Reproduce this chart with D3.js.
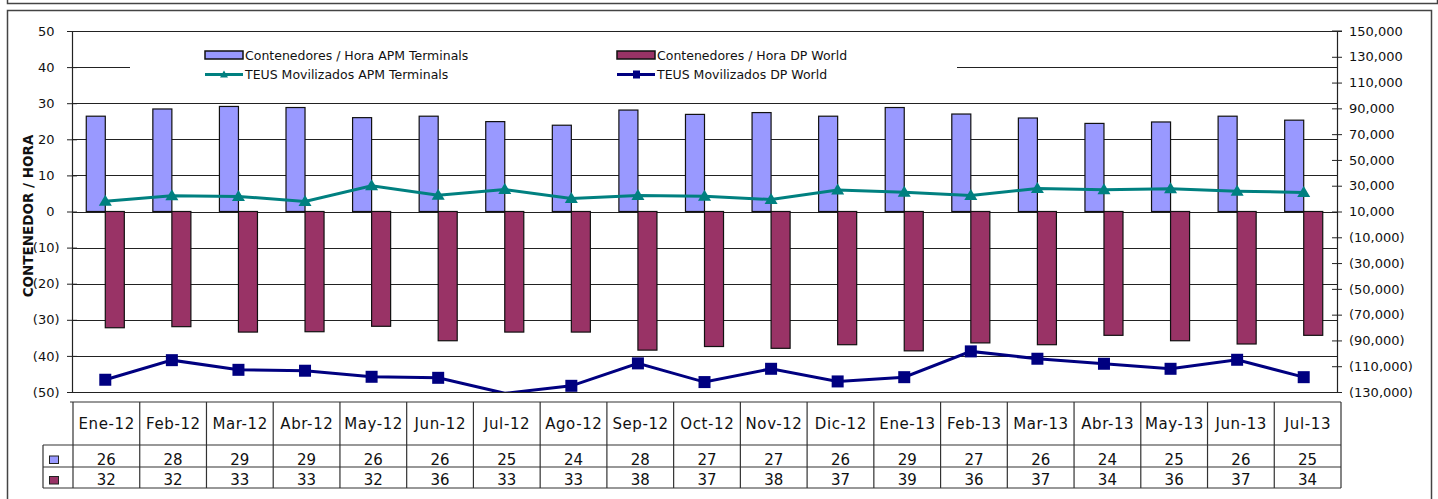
<!DOCTYPE html>
<html>
<head>
<meta charset="utf-8">
<script src="https://cdn.jsdelivr.net/npm/d3@7"></script>
<style>
  html, body { margin: 0; padding: 0; background: #fff; }
  svg { display: block; font-family: "DejaVu Sans", Verdana, sans-serif; }
</style>
</head>
<body>
<script>
// ---------- DATA ----------
const months = ["Ene-12","Feb-12","Mar-12","Abr-12","May-12","Jun-12","Jul-12","Ago-12","Sep-12","Oct-12",
                "Nov-12","Dic-12","Ene-13","Feb-13","Mar-13","Abr-13","May-13","Jun-13","Jul-13"];
// Contenedores / Hora (bars, left axis)
const apmRate = [26.4,28.4,29.1,28.8,26.0,26.4,24.9,23.9,28.1,26.9,27.4,26.4,28.8,27.0,25.9,24.4,24.8,26.4,25.3];
const dpRate  = [32.2,31.9,33.4,33.3,31.8,35.8,33.4,33.4,38.4,37.4,37.9,36.9,38.6,36.4,36.9,34.3,35.8,36.7,34.3];
// TEUS movilizados (lines, right axis; DP World drawn as negative)
const apmTeus = [18000,22200,21700,17800,29900,22700,27100,20100,22400,21800,19300,26600,25000,22400,27900,26800,27600,25800,24800];
const dpTeus  = [-120500,-105300,-112800,-113500,-118200,-119000,-131000,-125200,-107800,-122300,
                 -112000,-121800,-118500,-98500,-104200,-108100,-112000,-105000,-118500];
const leftTicks  = [-50,-40,-30,-20,-10,0,10,20,30,40,50];
const rightTicks = [-130000,-110000,-90000,-70000,-50000,-30000,-10000,10000,30000,50000,70000,90000,110000,130000,150000];
const seriesNames = ["Contenedores / Hora APM Terminals","Contenedores / Hora DP World",
                     "TEUS Movilizados APM Terminals","TEUS Movilizados DP World"];
const yTitle = "CONTENEDOR / HORA";

// ---------- STYLE ----------
const C_APM = "#9999FF", C_DP = "#993366", C_APM_L = "#008080", C_DP_L = "#000080";
const W = 1438, H = 499;
const PL = 72, PR = 1337, PT = 31, PB = 392;

const svg = d3.select("body").append("svg").attr("width", W).attr("height", H);

// frames
svg.append("rect").attr("x", 7.5).attr("y", -6).attr("width", 1430).attr("height", 9.5)
  .attr("fill", "none").attr("stroke", "#444").attr("stroke-width", 1.5);
svg.append("rect").attr("x", 7.5).attr("y", 10.5).attr("width", 1424).attr("height", 500)
  .attr("fill", "none").attr("stroke", "#444").attr("stroke-width", 1.5);

// scales
const x = d3.scaleBand().domain(months).range([PL, PR]).paddingInner(0).paddingOuter(0);
const yL = d3.scaleLinear().domain([-50, 50]).range([PB, PT]);
const yR = d3.scaleLinear().domain([-130000, 150000]).range([PB, PT]);
const bw = x.bandwidth() / 3.5;
const cx = m => x(m) + x.bandwidth() / 2;

// gridlines
svg.append("g").selectAll("line").data(leftTicks).join("line")
  .attr("x1", PL).attr("x2", PR)
  .attr("y1", d => Math.round(yL(d)) + 0.5).attr("y2", d => Math.round(yL(d)) + 0.5)
  .attr("stroke", "#222").attr("stroke-width", 1);

// legend background (hides gridline)
svg.append("rect").attr("x", 130).attr("y", 40).attr("width", 827).attr("height", 52).attr("fill", "#fff");

// bars
const bars = svg.append("g");
bars.selectAll("rect.apm").data(months).join("rect").attr("class", "apm")
  .attr("x", d => cx(d) - bw).attr("width", bw)
  .attr("y", (d, i) => yL(apmRate[i])).attr("height", (d, i) => yL(0) - yL(apmRate[i]))
  .attr("fill", C_APM).attr("stroke", "#111").attr("stroke-width", 1.2);
bars.selectAll("rect.dp").data(months).join("rect").attr("class", "dp")
  .attr("x", d => cx(d)).attr("width", bw)
  .attr("y", yL(0)).attr("height", (d, i) => yL(-dpRate[i]) - yL(0))
  .attr("fill", C_DP).attr("stroke", "#111").attr("stroke-width", 1.2);

// clip for lines
svg.append("clipPath").attr("id", "plotclip").append("rect")
  .attr("x", PL).attr("y", PT).attr("width", PR - PL).attr("height", PB - PT);

const lineGen = d3.line().x(d => cx(d.m)).y(d => yR(d.v));
const apmPts = months.map((m, i) => ({ m, v: apmTeus[i] }));
const dpPts = months.map((m, i) => ({ m, v: dpTeus[i] }));
const inDom = d => d.v >= -130000 && d.v <= 150000;

const lines = svg.append("g").attr("clip-path", "url(#plotclip)");
lines.append("path").datum(apmPts).attr("d", lineGen).attr("fill", "none")
  .attr("stroke", C_APM_L).attr("stroke-width", 3);
lines.append("path").datum(dpPts).attr("d", lineGen).attr("fill", "none")
  .attr("stroke", C_DP_L).attr("stroke-width", 3);

const tri = (w, h) => `M0,${-h/2}L${w/2},${h/2}L${-w/2},${h/2}Z`;
svg.append("g").selectAll("path").data(apmPts.filter(inDom)).join("path")
  .attr("transform", d => `translate(${cx(d.m)},${yR(d.v) - 1})`)
  .attr("d", tri(13, 11)).attr("fill", C_APM_L);
svg.append("g").selectAll("rect").data(dpPts.filter(inDom)).join("rect")
  .attr("x", d => cx(d.m) - 6).attr("y", d => yR(d.v) - 6).attr("width", 12).attr("height", 12)
  .attr("fill", C_DP_L);

// left axis
const fmtL = d => d < 0 ? `(${-d})` : `${d}`;
const axL = svg.append("g").attr("transform", `translate(${PL},0)`)
  .call(d3.axisLeft(yL).tickValues(leftTicks).tickFormat(fmtL).tickSize(5).tickSizeOuter(0));
axL.select(".domain").attr("stroke", "#222").attr("stroke-width", 1.2);
axL.selectAll(".tick line").attr("x1", 5).attr("x2", -5).attr("stroke", "#222");
axL.selectAll(".tick text").attr("x", d => d < 0 ? -12.5 : -17.4)
  .attr("font-size", 13).attr("font-family", "DejaVu Sans").attr("fill", "#111");

// right axis
const fmtR = d => d < 0 ? `(${d3.format(",")(-d)})` : d3.format(",")(d);
const axR = svg.append("g").attr("transform", `translate(${PR},0)`)
  .call(d3.axisRight(yR).tickValues(rightTicks).tickFormat(fmtR).tickSize(5).tickSizeOuter(0));
axR.select(".domain").attr("stroke", "#222").attr("stroke-width", 1.2);
axR.selectAll(".tick line").attr("x1", -5).attr("x2", 5).attr("stroke", "#222");
axR.selectAll(".tick text").attr("x", 12)
  .attr("font-size", 13).attr("font-family", "DejaVu Sans").attr("fill", "#111");
// top line at 150,000 too
svg.append("line").attr("x1", PR - 5).attr("x2", PR + 5).attr("y1", yR(150000)).attr("y2", yR(150000)).attr("stroke", "#222");

// y title
svg.append("text").attr("transform", "translate(28,216) rotate(-90)")
  .attr("text-anchor", "middle").attr("dominant-baseline", "central")
  .attr("font-size", 13.5).attr("font-weight", "bold").attr("fill", "#111").text(yTitle);

// legend
const lg = svg.append("g").attr("font-size", 12.5).attr("fill", "#111");
const legItems = [
  { name: seriesNames[0], x: 205, y: 55, type: "bar", color: C_APM },
  { name: seriesNames[1], x: 617, y: 55, type: "bar", color: C_DP },
  { name: seriesNames[2], x: 205, y: 74.5, type: "tri", color: C_APM_L },
  { name: seriesNames[3], x: 617, y: 74.5, type: "sq", color: C_DP_L }
];
legItems.forEach(it => {
  const g = lg.append("g");
  if (it.type === "bar") {
    g.append("rect").attr("x", it.x).attr("y", it.y - 4).attr("width", 38).attr("height", 8)
      .attr("fill", it.color).attr("stroke", "#111").attr("stroke-width", 1.5);
  } else {
    g.append("line").attr("x1", it.x).attr("x2", it.x + 38).attr("y1", it.y).attr("y2", it.y)
      .attr("stroke", it.color).attr("stroke-width", 3);
    if (it.type === "tri") {
      g.append("path").attr("transform", `translate(${it.x + 19},${it.y - 0.5})`).attr("d", tri(8, 7)).attr("fill", it.color);
    } else {
      g.append("rect").attr("x", it.x + 16).attr("y", it.y - 4).attr("width", 7).attr("height", 8).attr("fill", it.color);
    }
  }
  g.append("text").attr("x", it.x + 40).attr("y", it.y + 4.5).text(it.name);
});

// data table
const TX0 = 73, TX1 = 1341, KX = 43;
const tx = d3.scaleBand().domain(months).range([TX0, TX1]);
const rowY = [402, 445, 467, 488];
const tbl = svg.append("g").attr("stroke", "#333").attr("stroke-width", 1.2);
tbl.append("line").attr("x1", TX0 - 3).attr("x2", TX1).attr("y1", rowY[0]).attr("y2", rowY[0]);
[1, 2, 3].forEach(k => tbl.append("line").attr("x1", KX).attr("x2", TX1).attr("y1", rowY[k]).attr("y2", rowY[k]));
tbl.selectAll("line.v").data(months.concat(["__end"])).join("line").attr("class", "v")
  .attr("x1", (d, i) => TX0 + i * tx.bandwidth()).attr("x2", (d, i) => TX0 + i * tx.bandwidth())
  .attr("y1", rowY[0]).attr("y2", rowY[3]);
tbl.append("line").attr("x1", KX).attr("x2", KX).attr("y1", rowY[1]).attr("y2", rowY[3]);

const tt = svg.append("g").attr("fill", "#111").attr("text-anchor", "middle").attr("font-size", 15);
tt.selectAll("text.h").data(months).join("text").attr("class", "h")
  .attr("x", d => tx(d) + tx.bandwidth() / 2 + 0.3).attr("y", 429)
  .attr("letter-spacing", 0.6).text(d => d);
tt.selectAll("text.a").data(months).join("text").attr("class", "a")
  .attr("x", d => tx(d) + tx.bandwidth() / 2).attr("y", 464.5)
  .text((d, i) => Math.round(apmRate[i]));
tt.selectAll("text.b").data(months).join("text").attr("class", "b")
  .attr("x", d => tx(d) + tx.bandwidth() / 2).attr("y", 485)
  .text((d, i) => Math.round(dpRate[i]));
svg.append("rect").attr("x", 49.5).attr("y", 456).attr("width", 9).attr("height", 7.5)
  .attr("fill", C_APM).attr("stroke", "#222").attr("stroke-width", 1);
svg.append("rect").attr("x", 49.5).attr("y", 476.5).attr("width", 9).attr("height", 7.5)
  .attr("fill", C_DP).attr("stroke", "#222").attr("stroke-width", 1);
</script>
</body>
</html>
